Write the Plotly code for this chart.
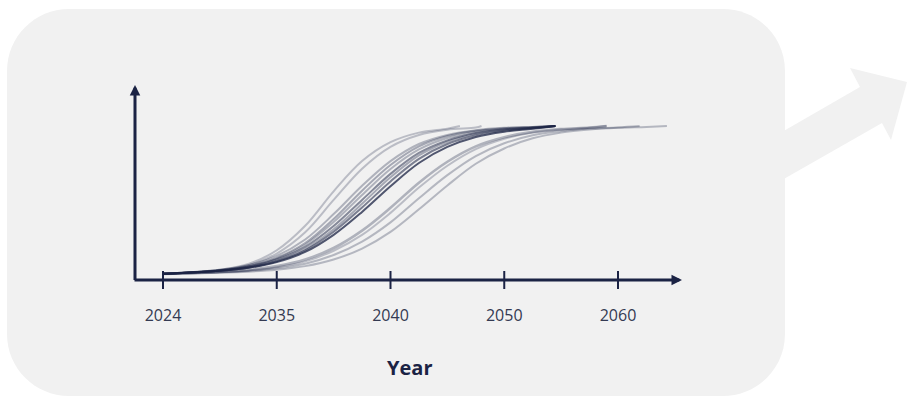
import plotly.graph_objects as go

W, H = 907, 397

# ---- data -------------------------------------------------------------
# Tick positions along the (ordinal) time axis and their year labels
TICK_POS = [0, 1, 2, 3, 4]
TICK_YEARS = ["2024", "2035", "2040", "2050", "2060"]

# Shared sampling positions on the time axis
GRID = [0, 0.5, 0.75, 1.0, 1.25, 1.5, 1.75, 2.0, 2.25, 2.5, 2.75,
        3.0, 3.25, 3.5, 3.75, 4.0, 4.25]

# Adoption pathways (share of saturation, %), one list per scenario.
# Each scenario stops at its own end position where it reaches 100.
path_a = [4, 6.6, 10.4, 19.3, 35.2, 57.6, 77.2, 89.5, 95.7, 98.3, 100]
path_b = [4, 6.4, 9.6, 17.2, 31.0, 52.0, 72.3, 86.5, 94.2, 97.6, 99.0, 100]
path_c = [4, 6.7, 9.6, 15.7, 26.3, 42.8, 61.2, 77.2, 88.3, 94.2, 97.3, 98.8, 99.4, 100]
path_d = [4, 6.3, 8.9, 14.4, 24.0, 39.6, 58.0, 74.7, 86.8, 93.5, 96.9, 98.6, 99.4, 100]
path_e = [4, 6.3, 8.8, 13.9, 22.9, 37.6, 55.2, 72.1, 84.8, 92.2, 96.3, 98.2, 99.2, 100]
path_f = [4, 6.2, 8.6, 13.3, 21.5, 35.1, 52.0, 68.9, 82.5, 90.7, 95.5, 97.8, 98.9, 100]
path_g = [4, 6.0, 8.1, 12.4, 20.0, 32.9, 49.5, 66.7, 80.9, 89.8, 95.0, 97.5, 98.8, 100]
path_h = [4, 6.0, 8.0, 12.1, 19.3, 31.3, 47.1, 64.0, 78.7, 88.3, 94.0, 97.0, 98.6, 100]
path_i = [4, 6.0, 7.9, 11.6, 18.2, 29.3, 44.2, 60.9, 76.0, 86.4, 92.9, 96.3, 98.2, 100]
path_j = [4, 5.3, 6.6, 9.0, 13.3, 20.8, 32.1, 46.9, 63.2, 76.8, 86.8, 92.7, 96.2, 98.0, 99.0, 100]
path_k = [4, 5.2, 6.2, 8.3, 12.1, 19.0, 29.3, 43.6, 60.0, 74.2, 85.0, 91.7, 95.7, 97.7, 98.8, 100]
path_l = [4, 5.0, 5.9, 7.6, 10.6, 16.2, 24.9, 37.4, 53.1, 68.1, 80.5, 88.8, 94.0, 96.7, 98.3, 99.1, 100]
path_m = [4, 4.7, 5.4, 6.7, 9.0, 13.3, 20.4, 31.2, 45.9, 61.4, 75.5, 85.4, 92.0, 95.7, 97.7, 98.8, 99.4, 100]

# End position of each pathway on the time axis
PATH_END = {
    "a": 2.61, "b": 2.80, "c": 3.45, "d": 3.45, "e": 3.45, "f": 3.45,
    "g": 3.45, "h": 3.45, "i": 3.45, "j": 3.90, "k": 3.90, "l": 4.19,
    "m": 4.43,
}
PATHS = {
    "a": path_a, "b": path_b, "c": path_c, "d": path_d, "e": path_e,
    "f": path_f, "g": path_g, "h": path_h, "i": path_i, "j": path_j,
    "k": path_k, "l": path_l, "m": path_m,
}

# ---- styling ----------------------------------------------------------
NAVY = "#1b2344"
BOX = "#f1f1f1"
OPACITY = {
    "a": 0.25, "b": 0.25, "c": 0.30, "d": 0.35, "e": 0.30, "f": 0.50,
    "g": 0.35, "h": 0.55, "i": 0.75, "j": 0.30, "k": 0.25, "l": 0.28,
    "m": 0.28,
}
WIDTH = {k: 2.0 for k in PATHS}
WIDTH["j"] = 2.6

# Pixel layout of the axes
X0_PX, X_STEP_PX = 163, 113.75      # pixel of first tick, pixels per tick
Y0_PX, Y_UNIT_PX = 280, 1.54        # pixel of y=0, pixels per % unit

x_range = [(0 - X0_PX) / X_STEP_PX, (W - X0_PX) / X_STEP_PX]
y_range = [-(H - Y0_PX) / Y_UNIT_PX, Y0_PX / Y_UNIT_PX]


def px_x(px):
    return (px - X0_PX) / X_STEP_PX


def px_y(py):
    return (Y0_PX - py) / Y_UNIT_PX


def paper(x, y):
    return x / W, 1 - y / H


def path_from_px(cmds):
    out = []
    for c in cmds:
        op, pts = c[0], c[1:]
        coords = []
        for (x, y) in pts:
            u, v = paper(x, y)
            coords.append(f"{u:.5f},{v:.5f}")
        out.append(op + " ".join(coords))
    return " ".join(out) + " Z"


fig = go.Figure()

# ---- pathways ---------------------------------------------------------
order = sorted(PATHS, key=lambda k: OPACITY[k])
for key in order:
    ys = PATHS[key]
    end = PATH_END[key]
    xs = [g for g in GRID if g < end] + [end]
    fig.add_trace(go.Scatter(
        x=xs, y=ys, mode="lines",
        line=dict(color=NAVY, width=WIDTH[key], shape="spline", smoothing=1.0),
        opacity=OPACITY[key], hoverinfo="skip", showlegend=False,
    ))

# ---- background panel and side arrow -----------------------------------
L, T, R, B, r = 7, 9, 785, 396, 62
k = 0.5523 * r
panel = path_from_px([
    ("M", (L + r, T)), ("L", (R - r, T)),
    ("C", (R - r + k, T), (R, T + r - k), (R, T + r)),
    ("L", (R, B - r)),
    ("C", (R, B - r + k), (R - r + k, B), (R - r, B)),
    ("L", (L + r, B)),
    ("C", (L + r - k, B), (L, B - r + k), (L, B - r)),
    ("L", (L, T + r)),
    ("C", (L, T + r - k), (L + r - k, T), (L + r, T)),
])
arrow = path_from_px([
    ("M", (775, 136)), ("L", (860, 87)), ("L", (850, 68)), ("L", (907, 82)),
    ("L", (891, 140)), ("L", (882, 123)), ("L", (775, 184)),
])
shapes = [
    dict(type="path", path=arrow, xref="paper", yref="paper",
         fillcolor=BOX, line=dict(width=0), layer="below"),
    dict(type="path", path=panel, xref="paper", yref="paper",
         fillcolor=BOX, line=dict(width=0), layer="below"),
]

# Tick marks crossing the x axis line
for p in TICK_POS:
    shapes.append(dict(type="line", xref="x", yref="y", x0=p, x1=p,
                       y0=px_y(271), y1=px_y(289),
                       line=dict(color=NAVY, width=2)))

# ---- axis arrows --------------------------------------------------------
annotations = [
    dict(x=px_x(682), y=0, ax=px_x(133), ay=0, xref="x", yref="y",
         axref="x", ayref="y", text="", showarrow=True, arrowhead=2,
         arrowsize=0.7, arrowwidth=3, arrowcolor=NAVY, standoff=0),
    dict(x=px_x(135), y=px_y(85), ax=px_x(135), ay=px_y(281.5), xref="x",
         yref="y", axref="x", ayref="y", text="", showarrow=True,
         arrowhead=2, arrowsize=0.7, arrowwidth=3, arrowcolor=NAVY,
         standoff=0),
    dict(x=409 / W, y=1 - 367 / H, xref="paper", yref="paper", text="<b>Year</b>",
         showarrow=False, xanchor="center", yanchor="middle",
         font=dict(family="Open Sans", size=20, color=NAVY)),
]

fig.update_layout(
    width=W, height=H,
    margin=dict(l=0, r=0, t=0, b=0),
    paper_bgcolor="white",
    plot_bgcolor="rgba(0,0,0,0)",
    shapes=shapes,
    annotations=annotations,
    xaxis=dict(range=x_range, domain=[0, 1], anchor="free",
               position=1 - Y0_PX / H, tickvals=TICK_POS, ticktext=TICK_YEARS,
               showgrid=False, zeroline=False, showline=False, ticks="",
               ticklabelstandoff=24,
               tickfont=dict(family="Open Sans", size=16, color="#343a52"),
               fixedrange=True),
    yaxis=dict(range=y_range, domain=[0, 1], visible=False, fixedrange=True),
    showlegend=False,
)

fig.write_html("out.html")
